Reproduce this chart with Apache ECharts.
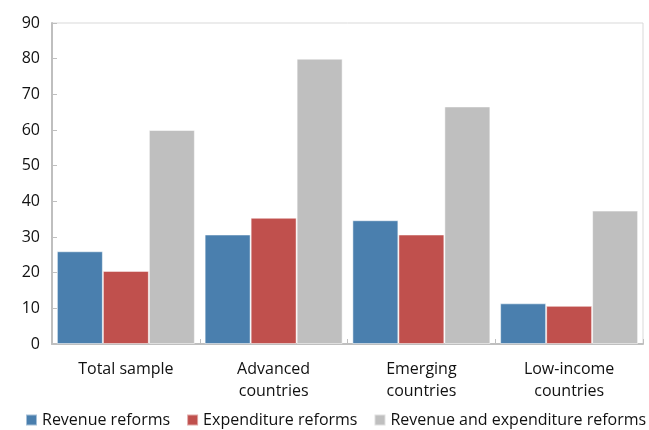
<!DOCTYPE html>
<html>
<head>
<meta charset="utf-8">
<script src="https://cdn.jsdelivr.net/npm/echarts@6/dist/echarts.min.js"></script>
<style>
  html, body { margin: 0; padding: 0; background: #fff; }
  #chart { width: 649px; height: 430px; }
</style>
</head>
<body>
<div id="chart"></div>
<script>
// Country groups on the category axis
const categories = ['Total sample', 'Advanced\ncountries', 'Emerging\ncountries', 'Low-income\ncountries'];
// Share of reform episodes by type (percent)
const revenueReforms = [26.0, 30.7, 34.7, 11.4];
const expenditureReforms = [20.5, 35.4, 30.7, 10.7];
const revenueAndExpenditure = [60.0, 80.0, 66.6, 37.4];
const seriesNames = ['Revenue reforms', 'Expenditure reforms', 'Revenue and expenditure reforms'];
const seriesColors = ['#4a7fae', '#c0504d', '#bfbfbf'];

const FONT = '"Open Sans", "Noto Sans", sans-serif';
const TEXT_COLOR = '#111';

const chart = echarts.init(document.getElementById('chart'), null, { renderer: 'canvas' });

const dataSets = [revenueReforms, expenditureReforms, revenueAndExpenditure];

chart.setOption({
  animation: false,
  textStyle: { fontFamily: FONT },
  grid: {
    left: 52, right: 6, top: 23, bottom: 86,
    show: true, borderColor: '#d9d9d9', borderWidth: 1
  },
  legend: {
    top: 412,
    left: 25,
    width: 700,
    padding: 0,
    itemWidth: 11,
    itemHeight: 11,
    itemGap: 16,
    icon: 'rect',
    textStyle: { fontFamily: FONT, fontSize: 16, color: TEXT_COLOR },
    data: seriesNames
  },
  xAxis: {
    type: 'category',
    data: categories,
    axisLine: { lineStyle: { color: '#bfbfbf', width: 2 } },
    axisTick: { show: true, inside: true, length: 5, lineStyle: { color: '#bfbfbf' } },
    axisLabel: { fontFamily: FONT, fontSize: 16, color: TEXT_COLOR, margin: 14, lineHeight: 22, interval: 0 }
  },
  yAxis: {
    type: 'value',
    min: 0, max: 90, interval: 10,
    axisLine: { show: true, lineStyle: { color: '#bfbfbf', width: 2 } },
    axisTick: { show: true, inside: true, length: 5, lineStyle: { color: '#bfbfbf' } },
    splitLine: { show: false },
    axisLabel: { fontFamily: FONT, fontSize: 16, color: TEXT_COLOR, margin: 12 }
  },
  series: dataSets.map((d, i) => ({
    name: seriesNames[i],
    type: 'bar',
    data: d,
    barGap: '0%',
    barCategoryGap: '6.6%',
    itemStyle: { color: seriesColors[i], borderColor: 'rgba(255,255,255,0.5)', borderWidth: 1 }
  }))
});
</script>
</body>
</html>
